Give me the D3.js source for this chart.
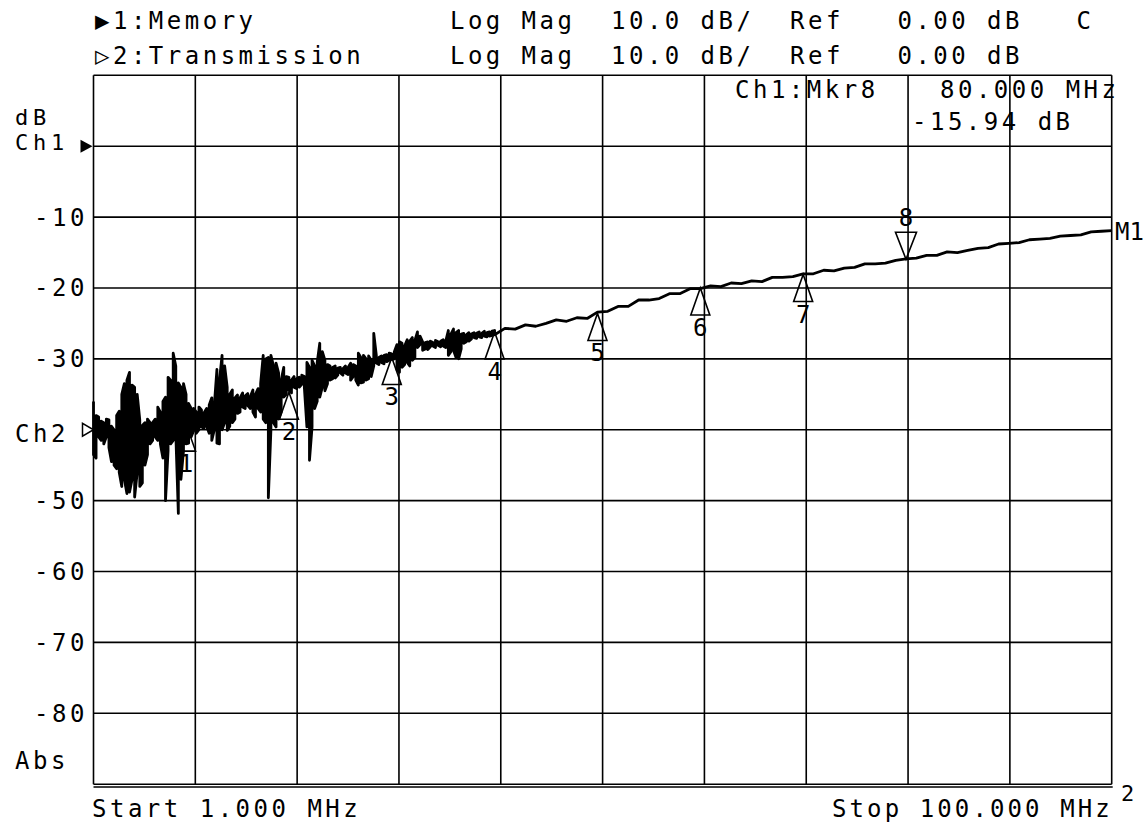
<!DOCTYPE html>
<html>
<head>
<meta charset="utf-8">
<script src="https://cdn.jsdelivr.net/npm/d3@7"></script>
<style>
  html, body { margin: 0; padding: 0; background: #fff; }
  svg { display: block; }
  text { font-family: "DejaVu Sans Mono", "Liberation Mono", monospace; font-size: 24px; fill: #000; letter-spacing: 3.5px; white-space: pre; }
</style>
</head>
<body>
<svg id="chart" width="1148" height="825" xml:space="preserve"></svg>
<script>
// ---------------- data ----------------
const startMHz = 1.0;
const stopMHz = 100.0;
const refTopDb = 10;      // top graticule line (Ch1 scale)
const refBottomDb = -90;  // bottom graticule line
const divisions = 10;

// noisy low-frequency part of the trace: sweep 1.00 .. 40.00 MHz every 0.25 MHz
const noisyStartMHz = 1.0;
const noisyStepMHz = 0.25;
const noisyHi = [
  -36.0,-38.0,-38.2,-38.8,-39.0,-38.5,-38.6,-39.5,-40.0,-38.0,
  -37.4,-35.0,-33.5,-33.0,-31.9,-33.7,-34.0,-35.0,-38.6,-39.4,
  -39.0,-38.5,-39.0,-39.0,-38.5,-36.8,-37.5,-36.0,-35.4,-32.6,
  -33.0,-29.2,-31.0,-33.4,-34.0,-33.5,-35.0,-36.3,-37.0,-37.0,
  -37.5,-36.8,-37.2,-37.6,-37.0,-36.5,-35.5,-36.5,-31.5,-33.0,
  -29.5,-31.0,-34.0,-35.0,-34.4,-35.5,-35.1,-35.5,-34.8,-35.2,
  -34.9,-35.3,-34.4,-35.0,-34.2,-33.5,-29.5,-30.0,-29.8,-29.5,
  -31.0,-30.6,-32.0,-33.0,-31.2,-32.5,-32.6,-33.0,-32.5,-32.8,
  -32.6,-32.3,-32.5,-30.5,-31.2,-30.2,-31.0,-30.5,-27.8,-29.0,
  -30.2,-30.8,-31.0,-31.2,-31.0,-31.3,-31.2,-31.4,-31.0,-31.2,
  -30.6,-30.8,-31.0,-29.2,-29.8,-29.5,-30.0,-29.6,-30.2,-26.4,
  -29.5,-29.8,-29.6,-29.5,-29.4,-29.2,-29.3,-29.0,-28.0,-27.6,
  -27.8,-28.2,-27.3,-27.5,-27.0,-27.4,-26.2,-26.8,-27.6,-27.7,
  -27.6,-27.5,-27.7,-27.4,-27.6,-27.5,-27.3,-27.5,-26.0,-26.5,
  -25.8,-26.3,-26.0,-26.5,-26.4,-26.6,-26.3,-26.5,-26.3,-26.4,
  -26.2,-26.4,-26.1,-26.3,-26.2,-26.1,-26.0
];
const noisyLo = [
  -43.5,-44.0,-41.0,-41.5,-42.0,-41.0,-42.5,-44.5,-45.0,-45.5,
  -46.0,-48.0,-47.0,-49.0,-48.8,-47.0,-49.5,-46.0,-48.0,-47.5,
  -45.0,-43.5,-42.0,-41.5,-41.0,-41.5,-42.0,-44.0,-50.0,-43.0,
  -42.0,-41.5,-40.5,-51.8,-47.0,-43.0,-42.0,-41.9,-41.0,-40.1,
  -40.5,-40.0,-39.6,-39.8,-39.5,-40.5,-41.5,-40.0,-41.9,-42.0,
  -40.0,-39.0,-40.1,-39.5,-39.0,-38.5,-37.7,-37.5,-36.8,-37.0,
  -36.6,-37.0,-37.5,-38.2,-37.0,-37.5,-38.5,-39.0,-49.6,-40.0,
  -39.0,-39.6,-38.5,-37.5,-35.4,-35.0,-34.4,-34.8,-34.0,-34.2,
  -34.0,-33.6,-34.0,-39.6,-44.3,-39.6,-37.0,-36.0,-35.4,-34.0,
  -34.5,-33.5,-33.0,-32.8,-32.7,-32.3,-32.0,-32.3,-32.0,-32.2,
  -33.0,-32.5,-33.0,-33.7,-33.4,-33.3,-33.0,-32.8,-32.5,-31.0,
  -30.6,-30.8,-30.5,-30.7,-30.4,-30.2,-30.1,-30.0,-31.5,-31.9,
  -31.2,-30.8,-30.5,-31.0,-30.2,-29.8,-28.4,-28.0,-28.8,-28.6,
  -28.7,-28.3,-28.2,-28.4,-28.1,-28.3,-28.2,-28.4,-29.5,-29.0,
  -28.8,-29.8,-30.0,-28.6,-27.8,-27.6,-27.5,-27.2,-27.0,-27.1,
  -26.9,-27.0,-26.8,-26.9,-26.8,-26.7,-26.6
];

// smoother upper part of the trace: 41 .. 100 MHz every 1 MHz
const smoothStartMHz = 41;
const smoothDb = [
  -25.7,-25.8,-25.2,-25.4,-25.0,-24.5,-24.7,-24.2,-24.3,-23.4,
  -23.3,-22.6,-22.6,-21.7,-21.7,-21.5,-20.8,-20.8,-20.1,-20.1,
  -19.7,-19.8,-19.3,-19.4,-19.0,-19.1,-18.5,-18.5,-18.4,-18.0,
  -18.0,-17.5,-17.6,-17.2,-17.1,-16.6,-16.6,-16.5,-16.1,-15.9,
  -15.8,-15.4,-15.4,-14.9,-15.0,-14.7,-14.4,-14.3,-13.8,-13.7,
  -13.6,-13.2,-13.1,-13.0,-12.7,-12.6,-12.5,-12.1,-12.0,-11.9
];

// markers
const markerIds = ["1","2","3","4","5","6","7","8"];
const markerMHz = [10, 20, 30, 40, 50, 60, 70, 80];
const markerDb = [-39.2, -34.7, -29.8, -26.2, -23.6, -20.0, -18.1, -15.94];
const activeMarker = "8";

// y labels
const yLabelDb = [0, -10, -20, -30, -40, -50, -60, -70, -80];
const yLabelText = ["Ch1", "-10", "-20", "-30", "Ch2", "-50", "-60", "-70", "-80"];

// header texts
const header1Left = "\u25B61:Memory";
const header2Left = "\u25B72:Transmission";
const header1Right = "Log Mag  10.0 dB/  Ref   0.00 dB   C";
const header2Right = "Log Mag  10.0 dB/  Ref   0.00 dB";
const mkrTitle = "Ch1:Mkr8";
const mkrFreq = "80.000 MHz";
const mkrValue = "-15.94 dB";
const startText = "Start 1.000 MHz";
const stopText = "Stop 100.000 MHz";

// ---------------- drawing ----------------
const svg = d3.select("#chart");
const x = d3.scaleLinear().domain([startMHz, stopMHz]).range([93.5, 1111.7]);
const y = d3.scaleLinear().domain([refTopDb, refBottomDb]).range([75.3, 784.2]);

const grid = svg.append("g").attr("stroke", "#000").attr("stroke-width", 1.6).attr("fill", "none");
const xDiv = d3.range(divisions + 1).map(k => startMHz + k * (stopMHz - startMHz) / divisions);
const yDiv = d3.range(divisions + 1).map(k => refTopDb - k * (refTopDb - refBottomDb) / divisions);
grid.selectAll("line.v").data(xDiv).join("line")
  .attr("x1", d => x(d)).attr("x2", d => x(d))
  .attr("y1", y(refTopDb)).attr("y2", y(refBottomDb));
grid.selectAll("line.h").data(yDiv).join("line")
  .attr("x1", x(startMHz)).attr("x2", x(stopMHz))
  .attr("y1", d => y(d)).attr("y2", d => y(d));
// double bottom line
grid.append("line").attr("x1", x(startMHz)).attr("x2", x(stopMHz) + 1)
  .attr("y1", y(refBottomDb) + 2.8).attr("y2", y(refBottomDb) + 2.8);

// trace points
const pts = [];
noisyHi.forEach((hi, i) => {
  const f = noisyStartMHz + i * noisyStepMHz;
  const lo = noisyLo[i];
  if (i % 2 === 0) { pts.push([f, hi]); pts.push([f, lo]); }
  else { pts.push([f, lo]); pts.push([f, hi]); }
});
smoothDb.forEach((v, i) => pts.push([smoothStartMHz + i, v]));

svg.append("path")
  .datum(pts)
  .attr("fill", "none")
  .attr("stroke", "#000")
  .attr("stroke-width", 2.8)
  .attr("stroke-linejoin", "round")
  .attr("d", d3.line().x(d => x(d[0])).y(d => y(d[1])));

// markers
const mk = svg.append("g");
const triH = 27, triW = 9.5;
markerIds.forEach((id, i) => {
  const cx = x(markerMHz[i]);
  const cy = y(markerDb[i]);
  if (id === activeMarker) {
    mk.append("path")
      .attr("d", `M${cx},${cy} L${cx - triW - 1},${cy - triH} L${cx + triW + 1},${cy - triH} Z`)
      .attr("fill", "none").attr("stroke", "#000").attr("stroke-width", 1.6);
    mk.append("text").attr("x", cx).attr("y", cy - triH - 6)
      .attr("text-anchor", "middle").style("letter-spacing", "0px").text(id);
  } else {
    mk.append("path")
      .attr("d", `M${cx},${cy} L${cx - triW},${cy + triH} L${cx + triW},${cy + triH} Z`)
      .attr("fill", "none").attr("stroke", "#000").attr("stroke-width", 1.6);
    mk.append("text").attr("x", cx).attr("y", cy + triH + 21)
      .attr("text-anchor", "middle").style("letter-spacing", "0px").text(id);
  }
});

// y labels
const yl = svg.append("g");
yLabelDb.forEach((d, i) => {
  const t = yLabelText[i];
  const isCh = t.startsWith("C");
  const x0 = isCh ? 15 : 34;
  const dy = t === "Ch1" ? 4 : (t === "Ch2" ? 12 : 8.5);
  const lab = yl.append("text").attr("x", x0).attr("y", y(d) + dy).text(t);
  if (t === "Ch1") lab.style("font-size", "22px").style("letter-spacing", "4.7px");
});
yl.append("text").attr("x", 15).attr("y", y(0) - 21).style("font-size", "22px").style("letter-spacing", "4.7px").text("dB");
yl.append("text").attr("x", 15).attr("y", y(-80) + 56).text("Abs");
// reference pointers
yl.append("path").attr("d", `M${x(startMHz) - 13},${y(0) - 6.5} L${x(startMHz) - 13},${y(0) + 6.5} L${x(startMHz) - 1},${y(0)} Z`)
  .attr("fill", "#000");
yl.append("path").attr("d", `M${x(startMHz) - 11},${y(-40) - 6.5} L${x(startMHz) - 11},${y(-40) + 6.5} L${x(startMHz)},${y(-40)} Z`)
  .attr("fill", "#fff").attr("stroke", "#000").attr("stroke-width", 1.5);

// headers
svg.append("text").attr("x", 95).attr("y", 29).text(header1Left);
svg.append("text").attr("x", 95).attr("y", 64).text(header2Left);
svg.append("text").attr("x", 450).attr("y", 29).style("letter-spacing", "3.45px").text(header1Right);
svg.append("text").attr("x", 450).attr("y", 64).style("letter-spacing", "3.45px").text(header2Right);

// marker readout
svg.append("text").attr("x", 735).attr("y", 98).text(mkrTitle);
svg.append("text").attr("x", 940).attr("y", 98).text(mkrFreq);
svg.append("text").attr("x", 912).attr("y", 130).text(mkrValue);

// M1 trace label
svg.append("text").attr("x", 1115).attr("y", y(smoothDb[smoothDb.length - 1]) + 9).style("letter-spacing", "0px").text("M1");

// footer
svg.append("text").attr("x", 92).attr("y", 817).text(startText);
svg.append("text").attr("x", 832).attr("y", 817).style("letter-spacing", "3.1px").text(stopText);
svg.append("text").attr("x", 1121).attr("y", 801).style("letter-spacing", "0px").style("font-size", "22px").text("2");
</script>
</body>
</html>
